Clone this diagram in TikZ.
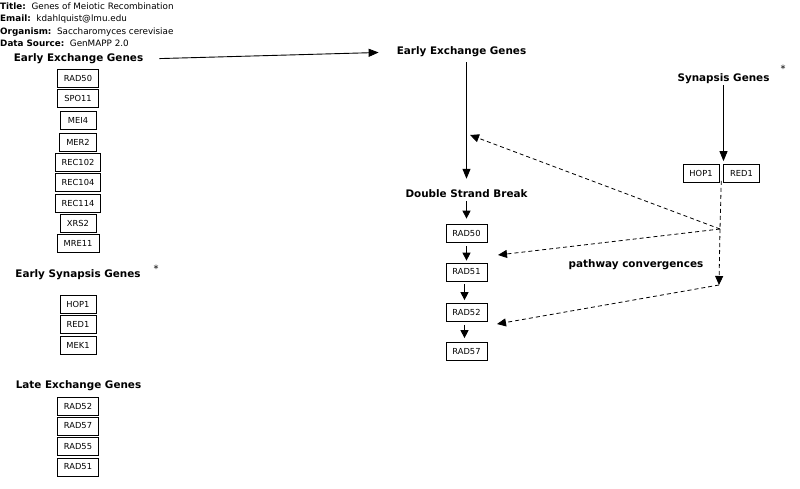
\documentclass[tikz,border=0pt]{standalone}
\usepackage{fontspec}
\setmainfont{DejaVu Sans}
\usetikzlibrary{arrows.meta, positioning, calc}

\begin{document}
\begin{tikzpicture}[x=1pt, y=-1pt,
    genebox/.style={draw, line width=0.7pt, font=\fontsize{8.3}{9}\selectfont,
                    minimum width=36pt, minimum height=18pt, inner xsep=6.5pt, inner ysep=0pt},
    heading/.style={font=\fontsize{10.4}{12}\selectfont\bfseries, inner sep=1pt},
    info/.style={font=\fontsize{8.8}{10}\selectfont, anchor=west, inner sep=0pt},
    star/.style={font=\fontsize{10}{11}\selectfont, inner sep=0pt},
    solidarrow/.style={-{Triangle[length=10pt, width=8pt]}, line width=0.9pt},
    steparrow/.style={-{Triangle[length=8pt, width=8pt]}, line width=0.9pt},
    dasharrow/.style={-{Triangle[length=9pt, width=8pt]}, line width=0.8pt,
                      dash pattern=on 4pt off 3pt}]

  \useasboundingbox (0,0) rectangle (800,488);

  % Map info
  \node[info] (title)  at (0,6)  {\textbf{Title:}\ \ Genes of Meiotic Recombination};
  \node[info] (email)  at (0,19) {\textbf{Email:}\ \ kdahlquist@lmu.edu};
  \node[info] (organ)  at (0,32) {\textbf{Organism:}\ \ Saccharomyces cerevisiae};
  \node[info] (source) at (0,43) {\textbf{Data Source:}\ \ GenMAPP 2.0};

  % Early exchange genes (list)
  \node[heading] (EEL) at (78.5,59) {Early Exchange Genes};
  \node[genebox] (lRAD50)  at (78,78)    {RAD50};
  \node[genebox] (lSPO11)  at (78,98)    {SPO11};
  \node[genebox] (lMEI4)   at (78,120)   {MEI4};
  \node[genebox] (lMER2)   at (78,142)   {MER2};
  \node[genebox] (lREC102) at (78,162)   {REC102};
  \node[genebox] (lREC104) at (78,182.5) {REC104};
  \node[genebox] (lREC114) at (78,203)   {REC114};
  \node[genebox] (lXRS2)   at (78,223)   {XRS2};
  \node[genebox] (lMRE11)  at (78,243.5) {MRE11};

  % Early synapsis genes (list)
  \node[heading] (ESL) at (78,275) {Early Synapsis Genes};
  \node[star] (starL) at (156,269) {*};
  \node[genebox] (lHOP1) at (78,304.5) {HOP1};
  \node[genebox] (lRED1) at (78,324.5) {RED1};
  \node[genebox] (lMEK1) at (78,345)   {MEK1};

  % Late exchange genes (list)
  \node[heading] (LEL) at (78.5,386) {Late Exchange Genes};
  \node[genebox] (lRAD52) at (78,406)   {RAD52};
  \node[genebox] (lRAD57) at (78,426)   {RAD57};
  \node[genebox] (lRAD55) at (78,446.5) {RAD55};
  \node[genebox] (lRAD51) at (78,467)   {RAD51};

  % Pathway
  \node[heading] (EER) at (461.5,52) {Early Exchange Genes};
  \node[heading] (SYN) at (723.5,79) {Synapsis Genes};
  \node[star] (starR) at (783,69) {*};
  \node[genebox] (HOP1) at (701,173.5) {HOP1};
  \node[genebox] (RED1) at (741.5,173.5) {RED1};
  \node[heading] (DSB) at (466.5,194) {Double Strand Break};
  \node[genebox] (RAD50) at (466.5,233)   {RAD50};
  \node[genebox] (RAD51) at (466.5,272)   {RAD51};
  \node[genebox] (RAD52) at (466.5,312.5) {RAD52};
  \node[genebox] (RAD57) at (466.5,351.5) {RAD57};
  \node[heading] (conv) at (636,265) {pathway convergences};

  % Solid arrows
  \draw[solidarrow, shorten <=15pt, shorten >=17pt] (EEL.east) -- (EER.west);
  \draw[solidarrow, shorten <=4pt, shorten >=10pt] (EER.south -| DSB.north) -- (DSB.north);
  \draw[solidarrow, shorten >=3pt] (SYN.south) -- (SYN.south |- HOP1.north);
  \draw[steparrow, shorten <=2pt, shorten >=5pt] (DSB.south) -- (RAD50.north);
  \draw[steparrow, shorten <=4pt, shorten >=2pt] (RAD50.south) -- (RAD51.north);
  \draw[steparrow, shorten <=3pt, shorten >=3pt] ([xshift=-2pt]RAD51.south) -- ([xshift=-2pt]RAD52.north);
  \draw[steparrow, shorten <=3pt, shorten >=4pt] ([xshift=-2pt]RAD52.south) -- ([xshift=-2pt]RAD57.north);

  % Convergences (dashed)
  \coordinate (split) at ($(HOP1.south east)!0.5!(RED1.south west)$);
  \coordinate (J1) at (720,229);
  \coordinate (J2) at (719,285);
  \coordinate (tipEE) at (470,135);
  \coordinate (tip50) at (498,255);
  \coordinate (tip52) at (497,324);
  \draw[dasharrow, -] ([yshift=2pt]split) -- (J1);
  \draw[dasharrow] (J1) -- (J2);
  \draw[dasharrow] (J1) -- (tipEE);
  \draw[dasharrow] (J1) -- (tip50);
  \draw[dasharrow] (J2) -- (tip52);
\end{tikzpicture}
\end{document}
